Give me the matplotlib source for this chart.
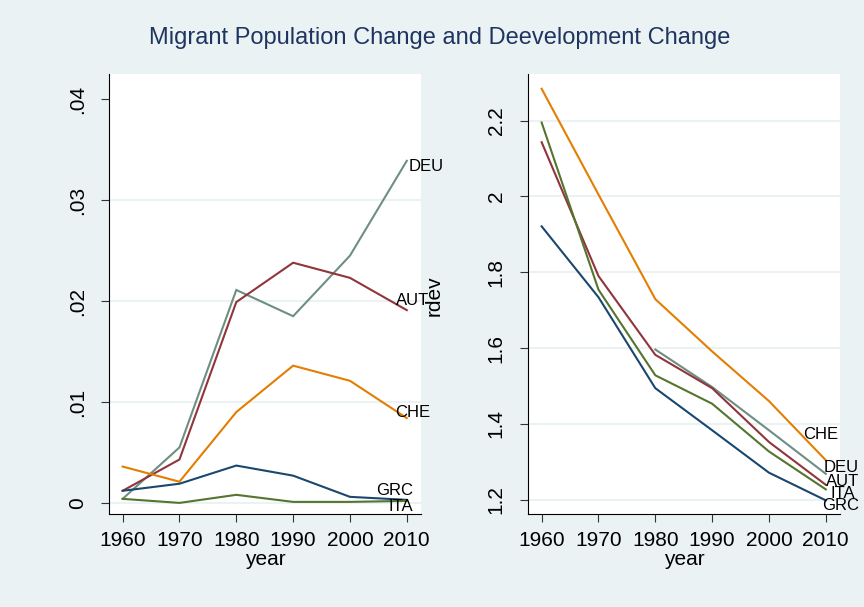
import matplotlib
matplotlib.use("Agg")
import matplotlib.pyplot as plt

# decade observations
years = [1960, 1970, 1980, 1990, 2000, 2010]

# migrant population change (share)
mig_aut = [0.0012, 0.0043, 0.0199, 0.0238, 0.0223, 0.0191]
mig_che = [0.0036, 0.0021, 0.0090, 0.0136, 0.0121, 0.0084]
mig_deu = [0.0004, 0.0055, 0.0211, 0.0185, 0.0245, 0.0339]
mig_grc = [0.0012, 0.0019, 0.0037, 0.0027, 0.0006, 0.0003]
mig_ita = [0.0004, 0.0000, 0.0008, 0.0001, 0.0001, 0.0002]

# relative development (rdev); DEU only from 1980 on
dev_years_deu = [1980, 1990, 2000, 2010]
dev_aut = [2.143, 1.790, 1.582, 1.494, 1.352, 1.239]
dev_che = [2.284, 2.005, 1.729, 1.591, 1.460, 1.304]
dev_deu = [1.596, 1.497, 1.383, 1.268]
dev_grc = [1.921, 1.734, 1.494, 1.383, 1.271, 1.198]
dev_ita = [2.195, 1.754, 1.528, 1.453, 1.327, 1.227]

left_yticks = [0, 0.01, 0.02, 0.03, 0.04]
left_yticklabels = ["0", ".01", ".02", ".03", ".04"]
right_yticks = [1.2, 1.4, 1.6, 1.8, 2.0, 2.2]
right_yticklabels = ["1.2", "1.4", "1.6", "1.8", "2", "2.2"]

# stata s2color palette
BG = "#eaf2f3"
colors = {
    "AUT": "#90353b",
    "CHE": "#e37e00",
    "DEU": "#6e8e84",
    "GRC": "#1a476f",
    "ITA": "#55752f",
}

plt.rcParams["font.family"] = ["Liberation Sans", "DejaVu Sans"]

W, H = 864, 607
fig = plt.figure(figsize=(W / 100, H / 100), dpi=100, facecolor=BG)


def px_axes(x0, y0, x1, y1):
    return fig.add_axes([x0 / W, 1 - y1 / H, (x1 - x0) / W, (y1 - y0) / H])


ax1 = px_axes(109, 74, 421, 514)
ax2 = px_axes(528, 74, 840, 514)

left_series = [
    ("DEU", years, mig_deu, (2, -6)),
    ("AUT", years, mig_aut, (-11, 10)),
    ("CHE", years, mig_che, (-12, 6)),
    ("GRC", years, mig_grc, (-31, 9)),
    ("ITA", years, mig_ita, (-18, -6)),
]
right_series = [
    ("CHE", years, dev_che, (-23, 26)),
    ("DEU", dev_years_deu, dev_deu, (-2, 6)),
    ("AUT", years, dev_aut, (0, 3)),
    ("ITA", years, dev_ita, (5, -4)),
    ("GRC", years, dev_grc, (-4, -5)),
]

for ax, series in [(ax1, left_series), (ax2, right_series)]:
    for name, xs, ys, off in series:
        ax.plot(xs, ys, color=colors[name], lw=1.5, solid_joinstyle="miter", zorder=3)
        ax.annotate(name, (xs[-1], ys[-1]), xytext=off, textcoords="offset pixels",
                    ha="left", va="center", fontsize=12, color="black",
                    annotation_clip=False, zorder=4)

for ax in (ax1, ax2):
    ax.set_facecolor("white")
    ax.set_xlim(1957.6, 2012.5)
    ax.set_xticks(years)
    ax.set_xlabel("year", fontsize=15, labelpad=0)
    for side in ("top", "right"):
        ax.spines[side].set_visible(False)
    for side in ("left", "bottom"):
        ax.spines[side].set_color("black")
        ax.spines[side].set_linewidth(0.8)
    ax.tick_params(axis="both", length=6, width=0.8, color="#333333", labelsize=15)
    ax.tick_params(axis="x", pad=6)
    ax.tick_params(axis="y", pad=10)

ax1.set_ylim(-0.0011, 0.0425)
ax1.set_yticks(left_yticks)
ax1.set_yticklabels(left_yticklabels, rotation=90, va="center")
ax2.set_ylim(1.162, 2.323)
ax2.set_yticks(right_yticks)
ax2.set_yticklabels(right_yticklabels, rotation=90, va="center")

# horizontal grid lines inside the plot region
for ax, ticks in [(ax1, left_yticks[:-1]), (ax2, right_yticks)]:
    for t in ticks:
        ax.axhline(t, color=BG, lw=1.5, zorder=1)

fig.text(434 / W, 1 - 296 / H, "rdev", rotation=90, ha="center", va="center", fontsize=15)
fig.text(440 / W, 1 - 38 / H, "Migrant Population Change and Deevelopment Change",
         ha="center", va="center", fontsize=17, color="#1f3560")

fig.savefig("out.png", dpi=100, facecolor=BG)
